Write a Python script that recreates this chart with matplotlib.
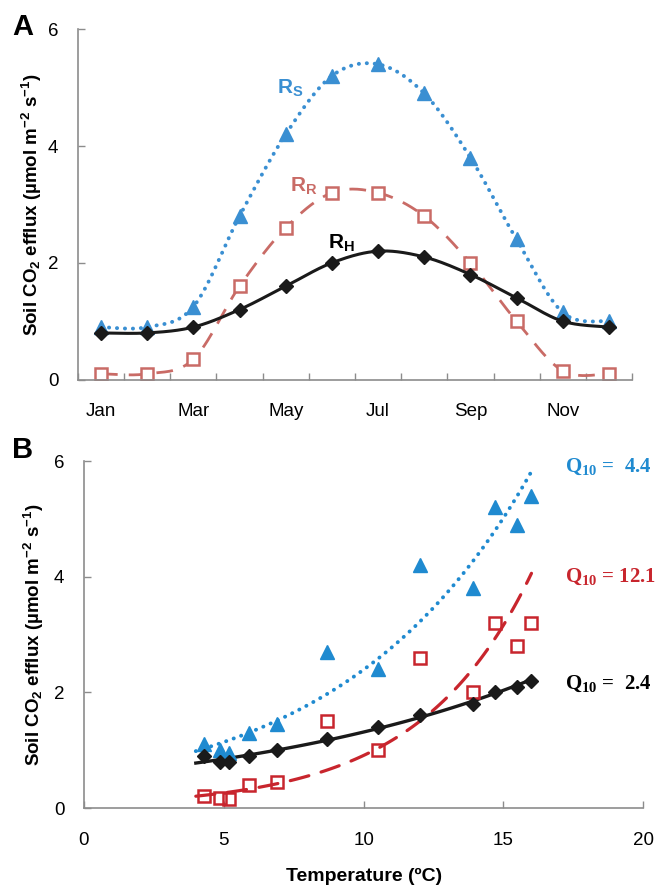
import numpy as np
import matplotlib
matplotlib.use("Agg")
import matplotlib.pyplot as plt

plt.rcParams['font.family'] = ['Liberation Sans', 'DejaVu Sans']
plt.rcParams['mathtext.fontset'] = 'custom'
plt.rcParams['mathtext.sf'] = 'Liberation Sans:bold'
plt.rcParams['mathtext.rm'] = 'Liberation Serif:bold'

# panel A - monthly fluxes
months = ["Jan", "Feb", "Mar", "Apr", "May", "Jun", "Jul", "Aug", "Sep", "Oct", "Nov", "Dec"]
rs_month = [0.9, 0.9, 1.25, 2.8, 4.2, 5.2, 5.4, 4.9, 3.8, 2.4, 1.15, 1.0]
rr_month = [0.1, 0.1, 0.35, 1.6, 2.6, 3.2, 3.2, 2.8, 2.0, 1.0, 0.15, 0.1]
rh_month = [0.8, 0.8, 0.9, 1.2, 1.6, 2.0, 2.2, 2.1, 1.8, 1.4, 1.0, 0.9]

# panel B - flux vs soil temperature
temp = [4.3, 4.85, 5.2, 5.9, 6.9, 8.7, 10.5, 12.0, 13.9, 14.7, 15.5, 16.0]
rs_temp = [1.1, 1.0, 0.95, 1.3, 1.45, 2.7, 2.4, 4.2, 3.8, 5.2, 4.9, 5.4]
rr_temp = [0.2, 0.18, 0.15, 0.4, 0.45, 1.5, 1.0, 2.6, 2.0, 3.2, 2.8, 3.2]
rh_temp = [0.9, 0.8, 0.8, 0.9, 1.0, 1.2, 1.4, 1.6, 1.8, 2.0, 2.1, 2.2]
q10 = {"rs": 4.4, "rr": 12.1, "rh": 2.4}

BLUE = "#3a8fd2"
SALMON = "#c96b66"
RED = "#c8252d"
BLUE_B = "#1f8ad0"
GREY = "#8c8c8c"
DOTS = (0, (0.05, 2.0))

YLABEL = "Soil CO$\\mathsf{_2}$ efflux (µmol m$\\mathsf{^{-2}}$ s$\\mathsf{^{-1}}$)"


def smooth(x, y, n=30):
    # catmull-rom like excel "smoothed line"
    x = np.asarray(x, float)
    y = np.asarray(y, float)
    px = np.concatenate([[x[0]], x, [x[-1]]])
    py = np.concatenate([[y[0]], y, [y[-1]]])
    xs, ys = [], []
    t = np.linspace(0, 1, n)
    for i in range(1, len(px) - 2):
        for p, out in ((px, xs), (py, ys)):
            p0, p1, p2, p3 = p[i - 1], p[i], p[i + 1], p[i + 2]
            out.append(0.5 * (2 * p1 + (-p0 + p2) * t + (2 * p0 - 5 * p1 + 4 * p2 - p3) * t ** 2
                              + (-p0 + 3 * p1 - 3 * p2 + p3) * t ** 3))
    return np.concatenate(xs), np.concatenate(ys)


def style_axes(ax):
    for s in ["top", "right"]:
        ax.spines[s].set_visible(False)
    for s in ["left", "bottom"]:
        ax.spines[s].set_color(GREY)
        ax.spines[s].set_linewidth(1.2)
    ax.tick_params(which="both", direction="in", color=GREY, width=1, length=5, labelsize=13.5)


fig = plt.figure(figsize=(6.66, 8.85), dpi=100)
axA = fig.add_axes([0.117, 0.571, 0.832, 0.396])
axB = fig.add_axes([0.126, 0.087, 0.840, 0.392])

# ---- A
xm = np.arange(len(months))
sx, sy = smooth(xm, rs_month)
axA.plot(sx, sy, ls=DOTS, color=BLUE, lw=2.8, dash_capstyle="round")
axA.plot(xm, rs_month, "^", color=BLUE, ms=10, mec=BLUE)
sx, sy = smooth(xm, rr_month)
axA.plot(sx, sy, ls=(0, (6, 4)), color=SALMON, lw=2)
axA.plot(xm, rr_month, "s", mfc="white", mec=SALMON, mew=1.8, ms=8.5)
sx, sy = smooth(xm, rh_month)
axA.plot(sx, sy, "-", color="#1a1a1a", lw=2.2)
axA.plot(xm, rh_month, "D", color="#1a1a1a", ms=7)

axA.set_xlim(-0.5, 11.5)
axA.set_ylim(0, 6)
axA.set_yticks([0, 2, 4, 6])
axA.set_xticks(xm[::2])
axA.set_xticklabels(months[::2])
axA.set_xticks(np.arange(-0.5, 12, 1), minor=True)
style_axes(axA)
axA.tick_params(axis="x", which="major", length=0, pad=17)
axA.tick_params(axis="y", pad=14)
axA.set_ylabel(YLABEL, fontsize=13.5, fontweight="bold", labelpad=3)
axA.text(4.1, 4.9, "$\\mathsf{R_S}$", color=BLUE, fontsize=15, ha="center")
axA.text(4.4, 3.22, "$\\mathsf{R_R}$", color=SALMON, fontsize=15, ha="center")
axA.text(5.2, 2.25, "$\\mathsf{R_H}$", color="black", fontsize=15, ha="center")
fig.text(0.018, 0.960, "A", fontsize=21, fontweight="bold")

# ---- B
tt = np.linspace(4, 16, 100)
for key, vals, col, ls, lw in (("rs", rs_temp, BLUE_B, DOTS, 2.8),
                               ("rr", rr_temp, RED, (0, (6, 4)), 2.3),
                               ("rh", rh_temp, "#1a1a1a", "-", 2.4)):
    b = np.log(q10[key]) / 10
    a = np.exp(np.mean(np.log(vals) - b * np.asarray(temp)))
    axB.plot(tt, a * np.exp(b * tt), ls=ls, color=col, lw=lw, dash_capstyle="round")

axB.plot(temp, rs_temp, "^", color=BLUE_B, ms=10)
axB.plot(temp, rr_temp, "s", mfc="none", mec=RED, mew=1.8, ms=9)
axB.plot(temp, rh_temp, "D", color="#1a1a1a", ms=7)

axB.set_xlim(0, 20)
axB.set_ylim(0, 6)
axB.set_xticks([0, 5, 10, 15, 20])
axB.set_yticks([0, 2, 4, 6])
style_axes(axB)
axB.tick_params(axis="x", pad=17)
axB.tick_params(axis="y", pad=14)
axB.set_xlabel("Temperature (ºC)", fontsize=14, fontweight="bold", labelpad=14)
axB.set_ylabel(YLABEL, fontsize=13.5, fontweight="bold", labelpad=6)
qfont = dict(family="Liberation Serif", fontweight="bold", fontsize=15, ha="left", va="center")
axB.text(17.2, 5.9, "$\\mathrm{Q_{10}}$ =  %.1f" % q10["rs"], color=BLUE_B, **qfont)
axB.text(17.2, 4.0, "$\\mathrm{Q_{10}}$ = %.1f" % q10["rr"], color=RED, **qfont)
axB.text(17.2, 2.15, "$\\mathrm{Q_{10}}$ =  %.1f" % q10["rh"], color="black", **qfont)
fig.text(0.018, 0.482, "B", fontsize=21, fontweight="bold")

fig.savefig("out.png", dpi=100)
